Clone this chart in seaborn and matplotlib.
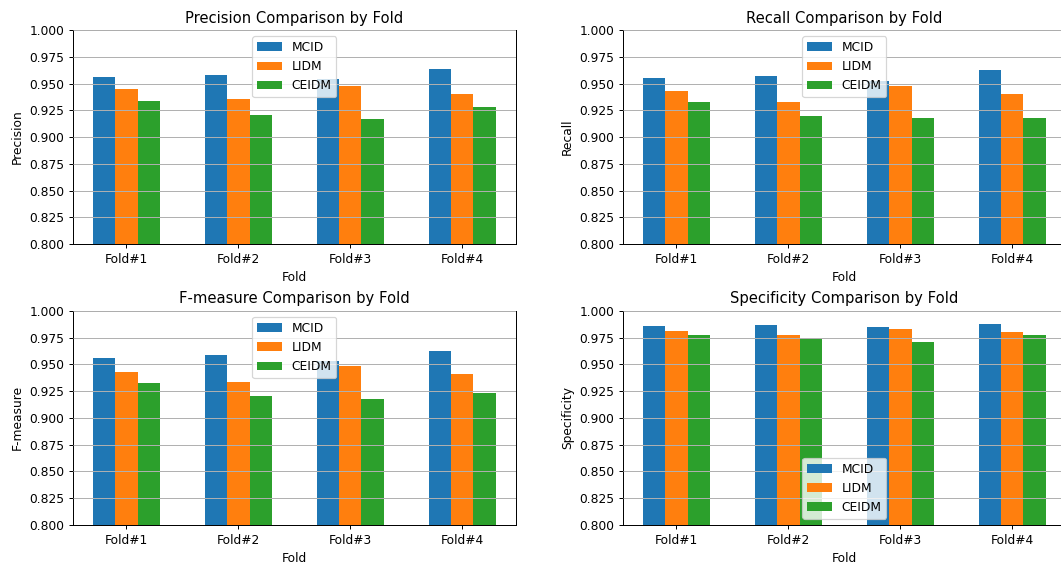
import matplotlib
matplotlib.use("Agg")
import matplotlib.pyplot as plt
from matplotlib.ticker import MultipleLocator, FormatStrFormatter
import seaborn as sns
import pandas as pd

folds = ["Fold#1", "Fold#2", "Fold#3", "Fold#4"]
models = ["MCID", "LIDM", "CEIDM"]

precision_mcid = [0.9557, 0.9582, 0.9538, 0.9635]
precision_lidm = [0.9448, 0.9354, 0.9473, 0.9404]
precision_ceidm = [0.9339, 0.9211, 0.9170, 0.9279]

recall_mcid = [0.9548, 0.9573, 0.9523, 0.9626]
recall_lidm = [0.9429, 0.9329, 0.9473, 0.9404]
recall_ceidm = [0.9329, 0.9201, 0.9176, 0.9176]

fmeasure_mcid = [0.9559, 0.9584, 0.9530, 0.9625]
fmeasure_lidm = [0.9431, 0.9338, 0.9481, 0.9406]
fmeasure_ceidm = [0.9328, 0.9203, 0.9178, 0.9228]

specificity_mcid = [0.9856, 0.9863, 0.9847, 0.9880]
specificity_lidm = [0.9813, 0.9778, 0.9828, 0.9803]
specificity_ceidm = [0.9778, 0.9738, 0.9713, 0.9778]

metrics = [
    ("Precision", [precision_mcid, precision_lidm, precision_ceidm], "upper center"),
    ("Recall", [recall_mcid, recall_lidm, recall_ceidm], "upper center"),
    ("F-measure", [fmeasure_mcid, fmeasure_lidm, fmeasure_ceidm], "upper center"),
    ("Specificity", [specificity_mcid, specificity_lidm, specificity_ceidm], "lower center"),
]

palette = {"MCID": "#1f77b4", "LIDM": "#ff7f0e", "CEIDM": "#2ca02c"}

DPI = 1061 / 12.0
fig, axes = plt.subplots(2, 2, figsize=(12.0, 565 / DPI), dpi=DPI)
fig.subplots_adjust(left=0.0685, right=1.0047, bottom=0.0708, top=0.9469,
                    wspace=0.2407, hspace=0.311)

for ax, (name, series, loc) in zip(axes.flat, metrics):
    rows = []
    for model, vals in zip(models, series):
        for fold, v in zip(folds, vals):
            rows.append({"Fold": fold, "Model": model, name: v})
    df = pd.DataFrame(rows)
    sns.barplot(data=df, x="Fold", y=name, hue="Model", order=folds,
                hue_order=models, palette=palette, saturation=1,
                width=0.6, errorbar=None, linewidth=0, ax=ax)
    ax.set_ylim(0.8, 1.0)
    ax.set_xlim(-0.48, 3.48)
    ax.yaxis.set_major_locator(MultipleLocator(0.025))
    ax.yaxis.set_major_formatter(FormatStrFormatter("%.3f"))
    ax.set_title(f"{name} Comparison by Fold")
    ax.set_xlabel("Fold")
    ax.set_ylabel(name)
    ax.yaxis.grid(True)
    ax.xaxis.grid(False)
    ax.set_axisbelow(False)
    sns.move_legend(ax, loc, title=None)

fig.savefig("out.png", dpi=DPI)
